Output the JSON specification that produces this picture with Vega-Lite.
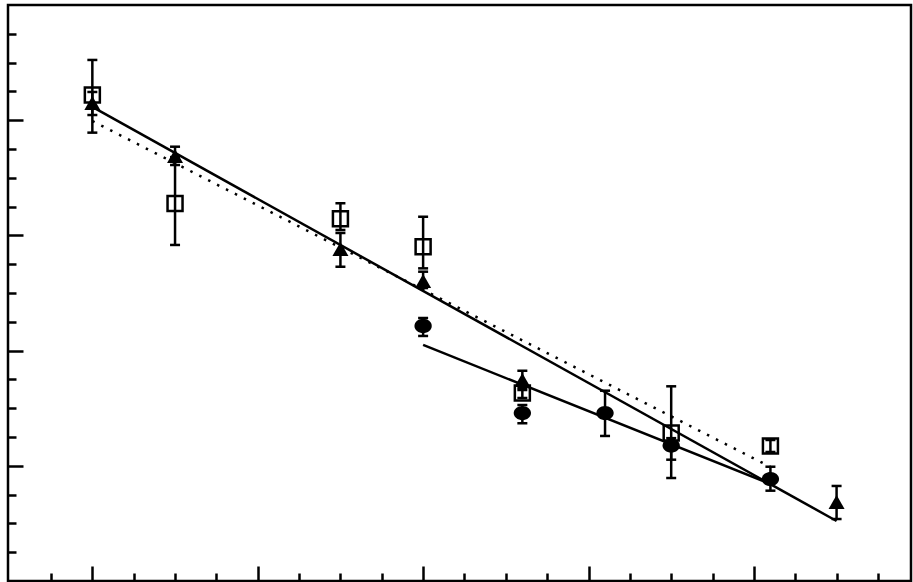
{
  "$schema": "https://vega.github.io/schema/vega-lite/v6.json",
  "width": 903,
  "height": 576,
  "autosize": "none",
  "padding": {"left": 8, "top": 5, "right": 2, "bottom": 1},
  "background": "white",
  "config": {
    "view": {"stroke": "black", "strokeWidth": 2.5},
    "axis": {
      "labels": false,
      "domain": false,
      "grid": false,
      "title": null,
      "tickColor": "black",
      "tickWidth": 2.5,
      "tickSize": {"condition": {"test": "datum.value % 10 === 0", "value": -15}, "value": -8}
    }
  },
  "datasets": {
    "points": [
      {"series": "square", "x": 0, "y": 42.19, "lo": 38.92, "hi": 45.23},
      {"series": "square", "x": 5, "y": 32.77, "lo": 29.17, "hi": 36.8},
      {"series": "square", "x": 15, "y": 31.45, "lo": 30.47, "hi": 32.79},
      {"series": "square", "x": 20, "y": 29.02, "lo": 27.14, "hi": 31.62},
      {"series": "square", "x": 26, "y": 16.32, "lo": 15.89, "hi": 16.75},
      {"series": "square", "x": 35, "y": 12.85, "lo": 10.53, "hi": 16.9},
      {"series": "square", "x": 41, "y": 11.72, "lo": 11.2, "hi": 12.24},
      {"series": "triangle", "x": 0, "y": 41.49, "lo": 40.45, "hi": 42.45},
      {"series": "triangle", "x": 5, "y": 36.89, "lo": 36.11, "hi": 37.7},
      {"series": "triangle", "x": 15, "y": 28.82, "lo": 27.28, "hi": 30.21},
      {"series": "triangle", "x": 20, "y": 26.04, "lo": 25.43, "hi": 26.85},
      {"series": "triangle", "x": 26, "y": 17.45, "lo": 16.58, "hi": 18.26},
      {"series": "triangle", "x": 45, "y": 6.86, "lo": 5.38, "hi": 8.25},
      {"series": "circle", "x": 20, "y": 22.14, "lo": 21.27, "hi": 22.83},
      {"series": "circle", "x": 26, "y": 14.58, "lo": 13.69, "hi": 15.28},
      {"series": "circle", "x": 31, "y": 14.58, "lo": 12.59, "hi": 16.52},
      {"series": "circle", "x": 35, "y": 11.76, "lo": 8.94, "hi": 12.4},
      {"series": "circle", "x": 41, "y": 8.85, "lo": 7.84, "hi": 9.92}
    ],
    "lines": [
      {"line": "A", "style": "solid", "x": 0, "y": 41.15},
      {"line": "A", "style": "solid", "x": 45, "y": 5.21},
      {"line": "B", "style": "solid", "x": 20, "y": 20.49},
      {"line": "B", "style": "solid", "x": 41, "y": 8.42},
      {"line": "C", "style": "dotted", "x": 0, "y": 39.93},
      {"line": "C", "style": "dotted", "x": 41, "y": 9.9}
    ]
  },
  "encoding": {
    "x": {
      "field": "x",
      "type": "quantitative",
      "scale": {"domain": [-5.1, 49.5], "nice": false, "zero": false},
      "axis": {"values": [-2.5, 0, 2.5, 5, 7.5, 10, 12.5, 15, 17.5, 20, 22.5, 25, 27.5, 30, 32.5, 35, 37.5, 40, 42.5, 45, 47.5]}
    },
    "y": {
      "field": "y",
      "type": "quantitative",
      "scale": {"domain": [0, 50], "nice": false, "zero": false},
      "axis": {"values": [2.5, 5, 7.5, 10, 12.5, 15, 17.5, 20, 22.5, 25, 27.5, 30, 32.5, 35, 37.5, 40, 42.5, 45, 47.5]}
    }
  },
  "layer": [
    {
      "data": {"name": "lines"},
      "transform": [{"filter": "datum.style === 'solid'"}],
      "mark": {"type": "line", "color": "black", "strokeWidth": 2.5},
      "encoding": {"detail": {"field": "line"}}
    },
    {
      "data": {"name": "lines"},
      "transform": [{"filter": "datum.style === 'dotted'"}],
      "mark": {"type": "line", "color": "black", "strokeWidth": 2.5, "strokeDash": [2.5, 7.5]},
      "encoding": {"detail": {"field": "line"}}
    },
    {
      "data": {"name": "points"},
      "mark": {"type": "rule", "color": "black", "strokeWidth": 2.5},
      "encoding": {
        "y": {"field": "lo", "type": "quantitative"},
        "y2": {"field": "hi"}
      }
    },
    {
      "data": {"name": "points"},
      "mark": {"type": "tick", "orient": "horizontal", "color": "black", "size": 10, "thickness": 2.5, "opacity": 1},
      "encoding": {"y": {"field": "lo", "type": "quantitative"}}
    },
    {
      "data": {"name": "points"},
      "mark": {"type": "tick", "orient": "horizontal", "color": "black", "size": 10, "thickness": 2.5, "opacity": 1},
      "encoding": {"y": {"field": "hi", "type": "quantitative"}}
    },
    {
      "data": {"name": "points"},
      "transform": [{"filter": "datum.series === 'square'"}],
      "mark": {"type": "point", "shape": "square", "filled": false, "color": "black", "size": 225, "strokeWidth": 2.5, "opacity": 1}
    },
    {
      "data": {"name": "points"},
      "transform": [{"filter": "datum.series === 'triangle'"}],
      "mark": {"type": "point", "shape": "triangle-up", "filled": true, "color": "black", "size": 256, "opacity": 1}
    },
    {
      "data": {"name": "points"},
      "transform": [{"filter": "datum.series === 'circle'"}],
      "mark": {"type": "point", "shape": "M-1,0A1,0.82,0,1,1,1,0A1,0.82,0,1,1,-1,0Z", "filled": true, "color": "black", "size": 300, "opacity": 1}
    }
  ]
}
